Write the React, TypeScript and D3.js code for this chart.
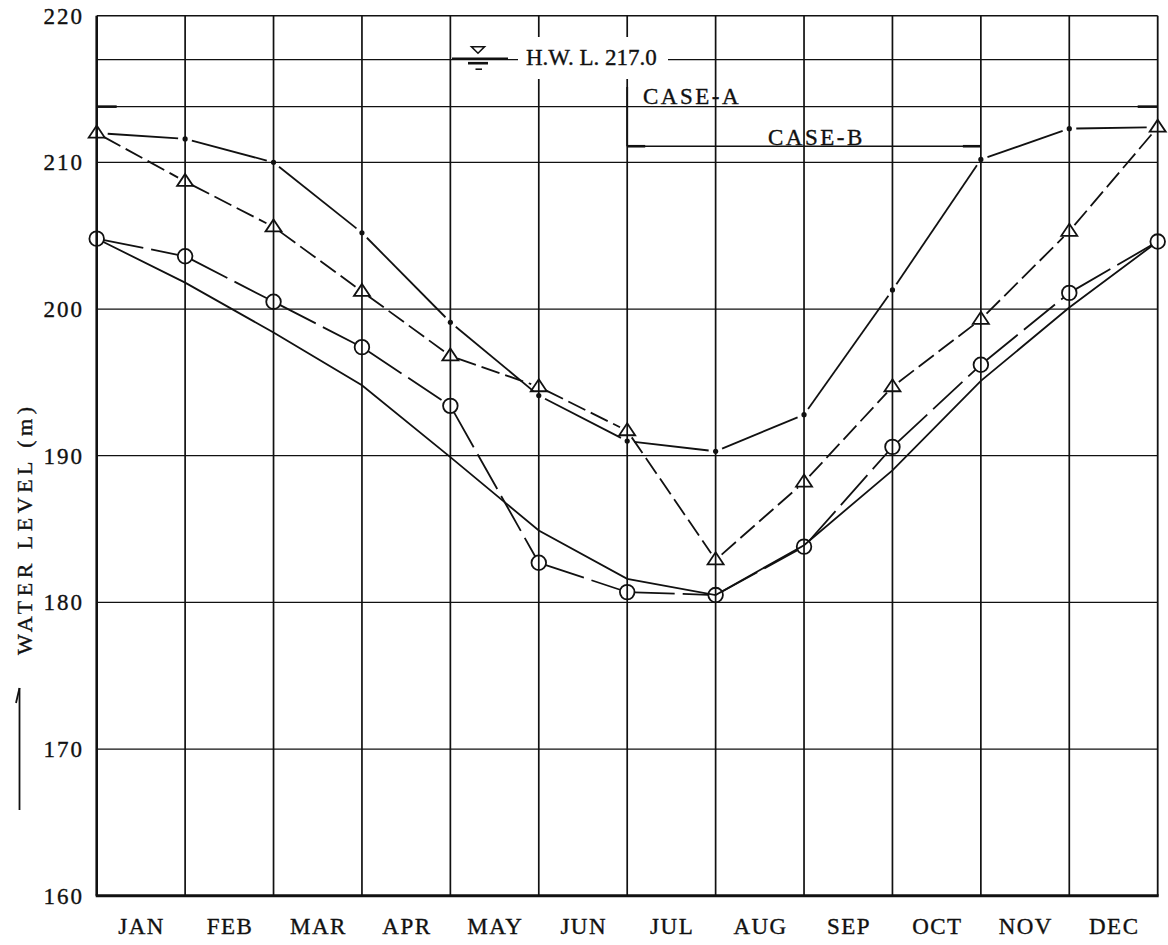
import React from "react";
import * as d3 from "d3";

// Month columns along the bottom
const MONTHS = ["JAN", "FEB", "MAR", "APR", "MAY", "JUN", "JUL", "AUG", "SEP", "OCT", "NOV", "DEC"];
// Water level axis ticks (m)
const Y_TICKS = [160, 170, 180, 190, 200, 210, 220];
const GRID_LEVELS = [170, 180, 190, 200, 210];

// Water level (m) at each month boundary: start of JAN ... end of DEC
const PLAIN_LEVELS = [204.8, 201.8, 198.4, 194.8, 189.9, 184.9, 181.6, 180.5, 183.9, 189.0, 195.1, 200.1, 204.6];
const CIRCLE_LEVELS = [204.8, 203.6, 200.5, 197.4, 193.4, 182.7, 180.7, 180.5, 183.8, 190.6, 196.2, 201.1, 204.6];
const TRIANGLE_LEVELS = [212.0, 208.7, 205.6, 201.2, 196.8, 194.7, 191.7, 182.9, 188.2, 194.7, 199.3, 205.3, 212.4];
const DOT_LEVELS = [212.0, 211.6, 210.0, 205.2, 199.1, 194.1, 191.0, 190.3, 192.8, 201.3, 210.2, 212.3, 212.4];

// Reference levels and case periods (boundary indices)
const HWL = 217.0;
const HWL_LABEL = "H.W. L. 217.0";
const CASE_A_LEVEL = 213.8;
const CASE_B_LEVEL = 211.1;
const CASE_START = 6;
const CASE_B_END = 10;

const W = 1168;
const H = 945;
const FONT = "'Liberation Serif', 'DejaVu Serif', serif";
const INK = "#111";

const x = d3.scaleLinear().domain([0, 12]).range([96.7, 1157.7]);
const y = d3.scaleLinear().domain([160, 220]).range([895.7, 15.7]);

type Pt = [number, number];

function toPoints(levels: number[]): Pt[] {
  return levels.map((v, i) => [x(i), y(v)] as Pt);
}

// shorten a segment at both ends so it stops short of the markers
function trim(a: Pt, b: Pt, ta: number, tb: number): Pt[] {
  const dx = b[0] - a[0];
  const dy = b[1] - a[1];
  const L = Math.hypot(dx, dy) || 1;
  const ux = dx / L;
  const uy = dy / L;
  return [
    [a[0] + ux * ta, a[1] + uy * ta],
    [b[0] - ux * tb, b[1] - uy * tb],
  ];
}

const line = d3.line<Pt>();

function Segments({ pts, gapStart, gapMid, gapEnd, dash }: { pts: Pt[]; gapStart: number; gapMid: number; gapEnd: number; dash?: string }) {
  return (
    <g fill="none" stroke={INK} strokeWidth={1.8}>
      {pts.slice(0, -1).map((p, i) => {
        const ta = i === 0 ? gapStart : gapMid;
        const tb = i === pts.length - 2 ? gapEnd : gapMid;
        return <path key={i} d={line(trim(p, pts[i + 1], ta, tb)) || ""} strokeDasharray={dash} />;
      })}
    </g>
  );
}

const textInk = { fill: INK, stroke: INK, strokeWidth: 0.35 };

export default function App() {
  const plain = toPoints(PLAIN_LEVELS);
  const circles = toPoints(CIRCLE_LEVELS);
  const tris = toPoints(TRIANGLE_LEVELS);
  const dots = toPoints(DOT_LEVELS);

  // plain line runs from circle edge to circle edge
  const plainPath = (() => {
    const first = trim(plain[0], plain[1], 7, 0)[0];
    const n = plain.length;
    const last = trim(plain[n - 2], plain[n - 1], 0, 7)[1];
    return line([first, ...plain.slice(1, -1), last]) || "";
  })();

  const left = x(0);
  const right = x(12);
  const top = y(220);
  const bottom = y(160);
  const hwlY = y(HWL);
  const caseAY = y(CASE_A_LEVEL);
  const caseBY = y(CASE_B_LEVEL);
  const symX = 478;

  return (
    <svg width={W} height={H} style={{ position: "absolute", left: 0, top: 0, background: "#fff" }} fontFamily={FONT}>
      <rect x={0} y={0} width={W} height={H} fill="#fff" />

      {/* horizontal grid */}
      <g stroke={INK} strokeWidth={1.2}>
        {GRID_LEVELS.map((v) => (
          <line key={v} x1={left} x2={right} y1={y(v)} y2={y(v)} />
        ))}
        <line x1={left} x2={right} y1={hwlY} y2={hwlY} />
        <line x1={left} x2={right} y1={caseAY} y2={caseAY} />
      </g>

      {/* vertical grid at month boundaries */}
      <g stroke={INK} strokeWidth={1.7}>
        {d3.range(1, 12).map((i) => (
          <line key={i} x1={x(i)} x2={x(i)} y1={top} y2={bottom} />
        ))}
      </g>

      {/* frame */}
      <g stroke={INK} fill="none">
        <line x1={left} x2={right} y1={top} y2={top} strokeWidth={1.6} />
        <line x1={right} x2={right} y1={top} y2={bottom} strokeWidth={1.8} />
        <line x1={left} x2={left} y1={top} y2={bottom} strokeWidth={2.6} />
        <line x1={left - 1} x2={right + 1} y1={bottom} y2={bottom} strokeWidth={3} />
      </g>

      {/* H.W.L. label */}
      <rect x={518} y={37} width={150} height={42} fill="#fff" />
      <text x={526} y={65} fontSize={23} {...textInk}>
        {HWL_LABEL}
      </text>
      <g stroke={INK} fill="none">
        <path d={`M${symX - 6.5},${hwlY - 13} L${symX + 6.5},${hwlY - 13} L${symX},${hwlY - 6.5} Z`} strokeWidth={1.6} />
        <line x1={452} x2={508} y1={hwlY - 1} y2={hwlY - 1} strokeWidth={2.2} />
        <line x1={468} x2={488} y1={hwlY + 3.5} y2={hwlY + 3.5} strokeWidth={2.6} />
        <line x1={475.5} x2={482} y1={hwlY + 9.5} y2={hwlY + 9.5} strokeWidth={1.6} />
      </g>

      {/* case periods */}
      <g stroke={INK} fill="none">
        <line x1={left} x2={left + 20} y1={caseAY} y2={caseAY} strokeWidth={2.6} />
        <line x1={right - 20} x2={right} y1={caseAY} y2={caseAY} strokeWidth={2.6} />
        <line x1={x(CASE_START)} x2={x(CASE_START)} y1={87} y2={caseBY} strokeWidth={1.8} />
        <line x1={x(CASE_START)} x2={x(CASE_B_END)} y1={caseBY} y2={caseBY} strokeWidth={1.5} />
        <line x1={x(CASE_START)} x2={x(CASE_START) + 18} y1={caseBY} y2={caseBY} strokeWidth={2.6} />
        <line x1={x(CASE_B_END) - 18} x2={x(CASE_B_END)} y1={caseBY} y2={caseBY} strokeWidth={2.6} />
      </g>
      <text x={643} y={104} fontSize={23} letterSpacing={2.5} {...textInk}>
        CASE-A
      </text>
      <text x={768} y={145} fontSize={23} letterSpacing={2.5} {...textInk}>
        CASE-B
      </text>

      {/* series */}
      <path d={plainPath} fill="none" stroke={INK} strokeWidth={1.8} />
      <Segments pts={circles} gapStart={7.5} gapMid={7.5} gapEnd={7.5} dash="40,8" />
      <Segments pts={tris} gapStart={8} gapMid={8} gapEnd={8} dash="19,6" />
      <Segments pts={dots} gapStart={11} gapMid={7} gapEnd={11} />

      <g fill="none" stroke={INK} strokeWidth={1.8}>
        {circles.map((p, i) => (
          <circle key={i} cx={p[0]} cy={p[1]} r={7.3} />
        ))}
        {tris.map((p, i) => (
          <path key={i} d={`M${p[0]},${p[1] - 7.5} L${p[0] + 8},${p[1] + 4.5} L${p[0] - 8},${p[1] + 4.5} Z`} />
        ))}
      </g>
      <g fill={INK}>
        {dots.slice(1, -1).map((p, i) => (
          <circle key={i} cx={p[0]} cy={p[1]} r={2.6} />
        ))}
      </g>

      {/* y axis */}
      <g fontSize={23} letterSpacing={2} textAnchor="end" {...textInk}>
        {Y_TICKS.map((v) => (
          <text key={v} x={84} y={y(v) + 8}>
            {v}
          </text>
        ))}
      </g>
      <text transform="translate(31.5,531) rotate(-90)" fontSize={22} letterSpacing={4.5} textAnchor="middle" dx={2.25} {...textInk}>
        WATER LEVEL (m)
      </text>
      <g stroke={INK} strokeWidth={1.8} fill="none">
        <line x1={19.5} x2={19.5} y1={688} y2={810} />
        <line x1={19.5} x2={16} y1={688} y2={703} />
      </g>

      {/* month labels */}
      <g fontSize={23} letterSpacing={1.5} textAnchor="middle" {...textInk}>
        {MONTHS.map((m, i) => (
          <text key={m} x={x(i + 0.5) + 0.75} y={934}>
            {m}
          </text>
        ))}
      </g>
    </svg>
  );
}
